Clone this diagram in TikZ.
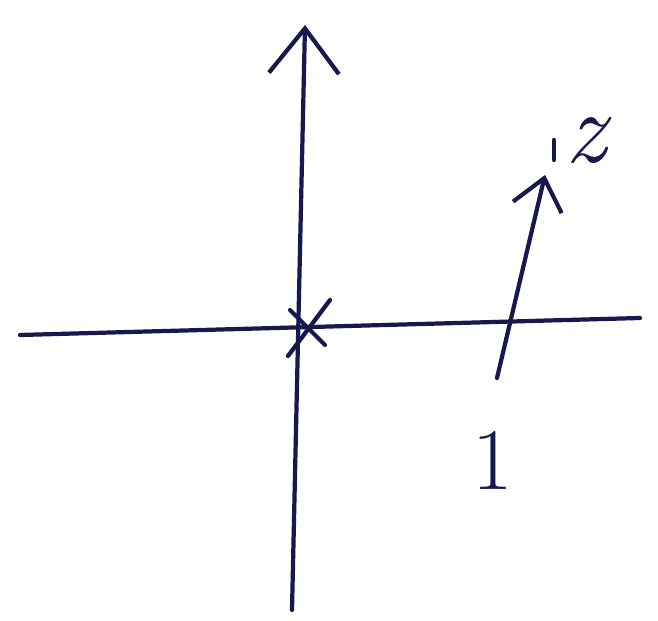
\documentclass[tikz,border=0pt]{standalone}
\usetikzlibrary{arrows.meta}
\definecolor{inchiostro}{RGB}{22,24,78}
\begin{document}
\begin{tikzpicture}[>={Straight Barb[length=9mm,width=14mm]}, line width=2.4pt, line cap=round, inchiostro]
        \useasboundingbox (0,0) rectangle (13.16,12.42);
        % Origine
        \coordinate (O) at (6.1, 5.92);

        % Estremi degli assi
        \coordinate (Xsx) at (0.4, 5.72);
        \coordinate (Xdx) at (12.8, 6.06);
        \coordinate (Ygiu) at (5.84, 0.22);
        \coordinate (Ysu) at (6.1, 11.92);

        % Punto 1 e numero z
        \coordinate (T) at (9.94, 4.86);
        \coordinate (Zf) at (10.9, 8.92);
        \coordinate (Zp) at (11.08, 9.42);

        % Assi
        \draw (Xsx) -- (Xdx);
        \draw[->] (Ygiu) -- (Ysu);

        % Croce nell'origine
        \draw ([shift={(-0.34,-0.62)}]O) -- ([shift={(0.5,0.5)}]O);
        \draw ([shift={(-0.3,0.3)}]O) -- ([shift={(0.4,-0.4)}]O);

        % Vettore da 1 verso z
        \draw[-{Straight Barb[length=6mm,width=10mm]}] (T) -- (Zf);
        \draw ([yshift=0.2cm]Zp) -- ([yshift=-0.2cm]Zp);

        % Etichette
        \node[font=\fontsize{58}{60}\selectfont\itshape] (lz) at (11.72, 9.6) {z};
        \node[font=\fontsize{50}{52}\selectfont] (l1) at (9.86, 3.22) {1};

    \end{tikzpicture}
\end{document}
